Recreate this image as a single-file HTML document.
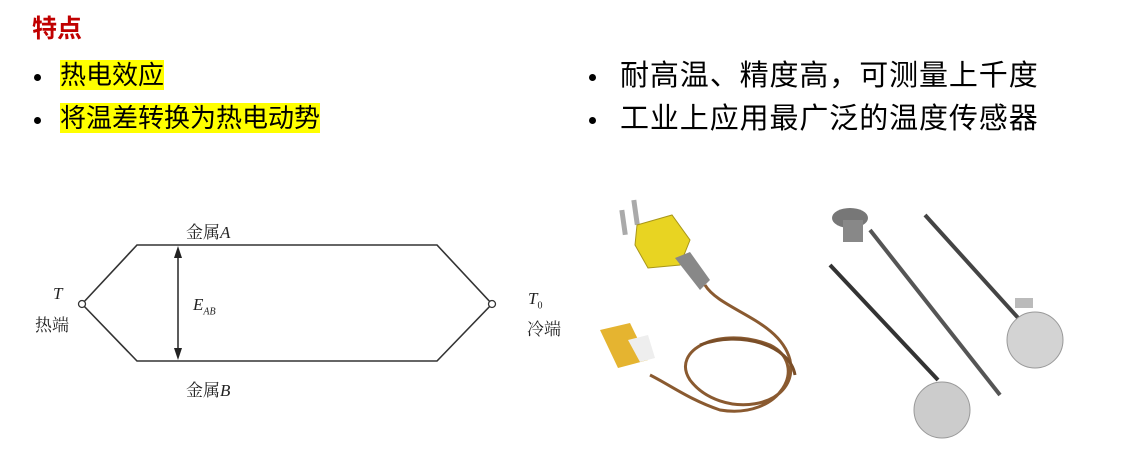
<!DOCTYPE html>
<html><head><meta charset="utf-8"><style>
body{margin:0;width:1130px;height:460px;background:#fff;position:relative;overflow:hidden;font-family:"Liberation Sans","Noto Sans CJK SC",sans-serif;}
.a{position:absolute;white-space:nowrap;}
.t{left:32px;top:9px;font-size:25px;font-weight:bold;color:#c00000;}
.b{font-size:26px;line-height:29px;color:#000;}
.hl{background:#ffff00;}
.r{font-size:29px;line-height:30px;color:#000;letter-spacing:0.9px;}
.dot{position:absolute;width:7px;height:7px;border-radius:50%;background:#000;}
.s{font-family:"Liberation Serif","Noto Serif CJK SC",serif;font-size:17px;color:#222;}
</style></head><body>
<div class="a t">特点</div>
<div class="dot" style="left:34px;top:74px"></div>
<div class="dot" style="left:34px;top:117px"></div>
<div class="a b" style="left:60px;top:61px"><span class="hl">热电效应</span></div>
<div class="a b" style="left:60px;top:104px"><span class="hl">将温差转换为热电动势</span></div>
<div class="dot" style="left:589px;top:74px"></div>
<div class="dot" style="left:589px;top:117px"></div>
<div class="a r" style="left:620px;top:61px">耐高温、精度高，可测量上千度</div>
<div class="a r" style="left:620px;top:104px">工业上应用最广泛的温度传感器</div>

<svg class="a" style="left:0;top:0" width="1130" height="460">
<g stroke="#333" stroke-width="1.6" fill="none">
<polyline points="82,304 137,245 437,245 492,304 437,361 137,361 82,304"/>
<line x1="178" y1="250" x2="178" y2="356"/>
</g>
<circle cx="82" cy="304" r="3.5" fill="#fff" stroke="#333" stroke-width="1.3"/>
<circle cx="492" cy="304" r="3.5" fill="#fff" stroke="#333" stroke-width="1.3"/>
<polygon points="178,246 174,258 182,258" fill="#222"/>
<polygon points="178,360 174,348 182,348" fill="#222"/>
<!-- probe 1 -->
<rect x="621" y="210" width="5" height="25" fill="#aaa" transform="rotate(-8 623 222)"/>
<rect x="633" y="200" width="5" height="25" fill="#aaa" transform="rotate(-8 635 212)"/>
<polygon points="637,225 672,215 690,240 680,265 648,268 635,245" fill="#e8d422" stroke="#a8961a"/>
<polygon points="675,258 690,252 710,280 700,290" fill="#888"/>
<path d="M705,285 C720,310 780,320 790,360 C800,410 720,420 690,380 C670,350 720,325 770,345 C810,365 780,420 720,410 C690,400 670,385 650,375" stroke="#8a5a30" stroke-width="3" fill="none"/>
<path d="M700,345 C740,330 790,345 795,375" stroke="#7a4e28" stroke-width="3" fill="none"/>
<polygon points="600,330 630,323 648,360 618,368" fill="#e5b430"/>
<polygon points="628,340 648,335 655,358 640,362" fill="#eee"/>
<!-- industrial -->
<ellipse cx="850" cy="218" rx="18" ry="10" fill="#777"/>
<rect x="843" y="220" width="20" height="22" fill="#888"/>
<line x1="870" y1="230" x2="1000" y2="395" stroke="#555" stroke-width="4"/>
<line x1="830" y1="265" x2="938" y2="380" stroke="#333" stroke-width="4"/>
<line x1="925" y1="215" x2="1020" y2="320" stroke="#444" stroke-width="4"/>
<circle cx="942" cy="410" r="28" fill="#ccc" stroke="#999"/>
<circle cx="1035" cy="340" r="28" fill="#d3d3d3" stroke="#999"/>
<rect x="1015" y="298" width="18" height="10" fill="#bbb"/>
</svg>

<div class="a s" style="left:186px;top:218px">金属<i>A</i></div>
<div class="a s" style="left:186px;top:376px">金属<i>B</i></div>
<div class="a s" style="left:53px;top:284px"><i>T</i></div>
<div class="a s" style="left:35px;top:311px">热端</div>
<div class="a s" style="left:193px;top:295px"><i>E</i><sub style="font-size:10px"><i>AB</i></sub></div>
<div class="a s" style="left:528px;top:289px"><i>T</i><sub style="font-size:10px">0</sub></div>
<div class="a s" style="left:527px;top:315px">冷端</div>
</body></html>
